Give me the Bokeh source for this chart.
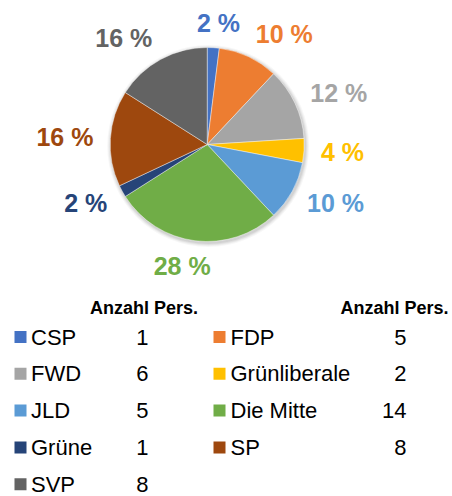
import math
from bokeh.plotting import figure
from bokeh.models import Range1d, ColumnDataSource
from bokeh.embed import file_html
from bokeh.resources import INLINE
from bokeh.core.properties import value

# ---- data ----
parties = ["CSP", "FDP", "FWD", "Grünliberale", "JLD", "Die Mitte", "Grüne", "SP", "SVP"]
counts = [1, 5, 6, 2, 5, 14, 1, 8, 8]
colors = ["#4472C4", "#ED7D31", "#A5A5A5", "#FFC000", "#5B9BD5",
          "#70AD47", "#264478", "#9E480E", "#636363"]
header = "Anzahl Pers."

# ---- layout (screen pixel coordinates of the page) ----
W, H = 452, 496
FONT = "Liberation Sans"


def Y(screen_y):
    return H - screen_y


p = figure(width=W, height=H, output_backend="svg", toolbar_location=None,
           x_range=Range1d(0, W), y_range=Range1d(0, H),
           min_border=0, outline_line_color=None)
p.axis.visible = False
p.grid.visible = False
p.background_fill_color = "white"
p.border_fill_color = "white"

cx, cy_s, r = 206.7, 144.0, 97.0
cy = Y(cy_s)

total = sum(counts)
fr = [c / total for c in counts]
cum = [0.0]
for f in fr:
    cum.append(cum[-1] + f)
starts = [math.pi / 2 - 2 * math.pi * cum[i] for i in range(len(fr))]
ends = [math.pi / 2 - 2 * math.pi * cum[i + 1] for i in range(len(fr))]

# soft shadow
for k, a in [(4.0, 0.03), (3.0, 0.04), (2.0, 0.05), (1.0, 0.06)]:
    p.circle(x=cx + 1, y=cy - 1.5, radius=r + k, fill_color="black",
             fill_alpha=a, line_color=None)

src = ColumnDataSource(dict(start=starts, end=ends, color=colors))
p.wedge(x=cx, y=cy, radius=r, start_angle="start", end_angle="end",
        direction="clock", fill_color="color", line_color="white",
        line_width=0.6, line_alpha=0.7, source=src)

# ---- percentage labels (outside end) ----
LSIZE = 25
cw = {"0": .556, "1": .556, "2": .556, "3": .556, "4": .556, "5": .556,
      "6": .556, "7": .556, "8": .556, "9": .556, " ": .278, "%": .889}
labels = [f"{round(f * 100)} %" for f in fr]
R0 = r + 17
VOFF = 8
lx, ly = [], []
for i, lab in enumerate(labels):
    mid = 2 * math.pi * (cum[i] + cum[i + 1]) / 2
    ux, uy = math.sin(mid), -math.cos(mid)  # screen coords, y down
    w = sum(cw[ch] for ch in lab) * LSIZE
    g = max(-1.0, min(1.0, 3 * ux))
    lx.append(cx + ux * R0 + g * w / 2)
    ly.append(Y(cy_s + uy * R0 + uy * VOFF))

lsrc = ColumnDataSource(dict(x=lx, y=ly, text=labels, color=colors))
p.text(x="x", y="y", text="text", source=lsrc, text_color="color",
       text_font=value(FONT), text_font_style="bold",
       text_font_size=f"{LSIZE}px", text_align="center",
       text_baseline="middle")

# ---- legend table ----
col_sq_x = [20, 219]
col_txt_x = [30.5, 230]
col_val_r = [148, 406]
head_cx = [143.5, 394]
head_y = 307.5
row0_y = 336.5
row_step = 36.8

p.text(x=head_cx, y=[Y(head_y)] * 2, text=[header] * 2, text_color="black",
       text_font=value(FONT), text_font_style="bold", text_font_size="18px",
       text_align="center", text_baseline="middle")

sq_x, t_x, v_x, ys = [], [], [], []
for i in range(len(parties)):
    c, rw = i % 2, i // 2
    yy = Y(row0_y + rw * row_step)
    sq_x.append(col_sq_x[c])
    t_x.append(col_txt_x[c])
    v_x.append(col_val_r[c])
    ys.append(yy)

p.rect(x=sq_x, y=ys, width=12, height=12, fill_color=colors, line_color=None)
p.text(x=t_x, y=ys, text=parties, text_color="black", text_font=value(FONT),
       text_font_size="22px", text_align="left", text_baseline="middle")
p.text(x=v_x, y=ys, text=[str(c) for c in counts], text_color="black",
       text_font=value(FONT), text_font_size="22px", text_align="right",
       text_baseline="middle")

open("out.html", "w").write(file_html(p, INLINE))
